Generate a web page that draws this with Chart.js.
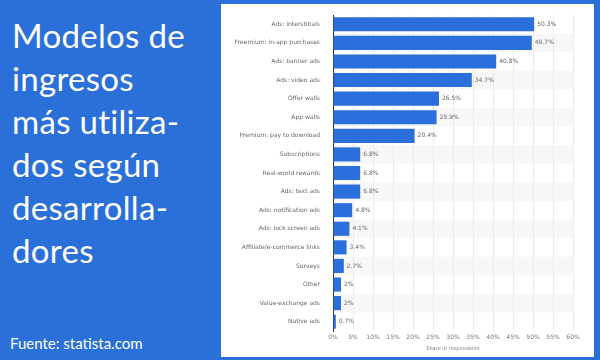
<!DOCTYPE html>
<html>
<head>
<meta charset="utf-8">
<script src="https://cdn.jsdelivr.net/npm/chart.js@4.4.0/dist/chart.umd.min.js"></script>
<style>
  html, body { margin: 0; padding: 0; }
  body { width: 600px; height: 360px; background: #2b70d8; position: relative; overflow: hidden; font-family: Lato, "Open Sans", sans-serif; }
  #title { position: absolute; left: 12px; top: 14px; width: 215px; color: #fff; font-size: 33px; line-height: 43px; font-weight: 400; white-space: nowrap; letter-spacing: 0.3px; }
  #source { position: absolute; left: 10px; top: 334px; color: #fff; font-size: 15px; }
  #panel { position: absolute; left: 221px; top: 4px; width: 373px; height: 353px; background: #fff; }
</style>
</head>
<body>
<div id="title">Modelos de<br>ingresos<br>más utiliza-<br>dos según<br>desarrolla-<br>dores</div>
<div id="source">Fuente: statista.com</div>
<div id="panel"><canvas id="mycanvas" width="373" height="353"></canvas></div>
<script>
var categories = ['Ads: interstitials', 'Freemium: in-app purchases', 'Ads: banner ads', 'Ads: video ads',
  'Offer walls', 'App walls', 'Premium: pay to download', 'Subscriptions', 'Real-world rewards',
  'Ads: text ads', 'Ads: notification ads', 'Ads: lock screen ads', 'Affiliate/e-commerce links',
  'Surveys', 'Other', 'Value-exchange ads', 'Native ads'];
var shares = [50.3, 49.7, 40.8, 34.7, 26.5, 25.9, 20.4, 6.8, 6.8, 6.8, 4.8, 4.1, 3.4, 2.7, 2, 2, 0.7];
var shareLabels = ['50.3%', '49.7%', '40.8%', '34.7%', '26.5%', '25.9%', '20.4%', '6.8%', '6.8%', '6.8%',
  '4.8%', '4.1%', '3.4%', '2.7%', '2%', '2%', '0.7%'];

var smallFont = '"DejaVu Sans", sans-serif';

// alternating light rows behind the bars
var stripes = {
  id: 'stripes',
  beforeDraw: function(chart) {
    var ctx = chart.ctx, area = chart.chartArea, y = chart.scales.y;
    var band = (area.bottom - area.top) / categories.length;
    ctx.save();
    ctx.fillStyle = '#f7f7f7';
    for (var i = 1; i < categories.length; i += 2) {
      var c = y.getPixelForValue(i);
      ctx.fillRect(area.left, c - band / 2, area.right - area.left, band);
    }
    ctx.restore();
  }
};

var valueLabels = {
  id: 'valueLabels',
  afterDatasetsDraw: function(chart) {
    var ctx = chart.ctx;
    var meta = chart.getDatasetMeta(0);
    ctx.save();
    ctx.font = '6px ' + smallFont;
    ctx.fillStyle = '#666';
    ctx.textBaseline = 'middle';
    meta.data.forEach(function(bar, i) {
      ctx.fillText(shareLabels[i], bar.x + 3, bar.y);
    });
    ctx.restore();
  }
};

var chartdata = {
  labels: categories,
  datasets: [{
    label: 'Share of respondents',
    backgroundColor: '#2a6fdb',
    data: shares,
    barPercentage: 0.76,
    categoryPercentage: 1
  }]
};

var ctx = document.getElementById('mycanvas');
var barGraph = new Chart(ctx, {
  type: 'bar',
  data: chartdata,
  plugins: [stripes, valueLabels],
  options: {
    indexAxis: 'y',
    responsive: false,
    animation: false,
    layout: { padding: { top: 11, right: 21, left: 0, bottom: 5 } },
    plugins: { legend: { display: false }, tooltip: { enabled: false } },
    scales: {
      x: {
        min: 0, max: 60,
        ticks: { stepSize: 5, color: '#777', maxRotation: 0, autoSkip: false, padding: 3,
          font: { size: 6, family: smallFont },
          callback: function(v) { return v + '%'; } },
        grid: { color: '#ebebeb', drawTicks: false },
        border: { display: false },
        title: { display: true, text: 'Share of respondents', color: '#777', padding: 0,
          font: { size: 5, family: smallFont } },
        afterFit: function(s) { s.height = 21; }
      },
      y: {
        ticks: { color: '#666', autoSkip: false, padding: 5, font: { size: 6, family: smallFont } },
        grid: { display: false },
        border: { display: true, color: '#333', width: 1 },
        afterFit: function(s) { s.width = 112; }
      }
    }
  }
});
</script>
</body>
</html>
